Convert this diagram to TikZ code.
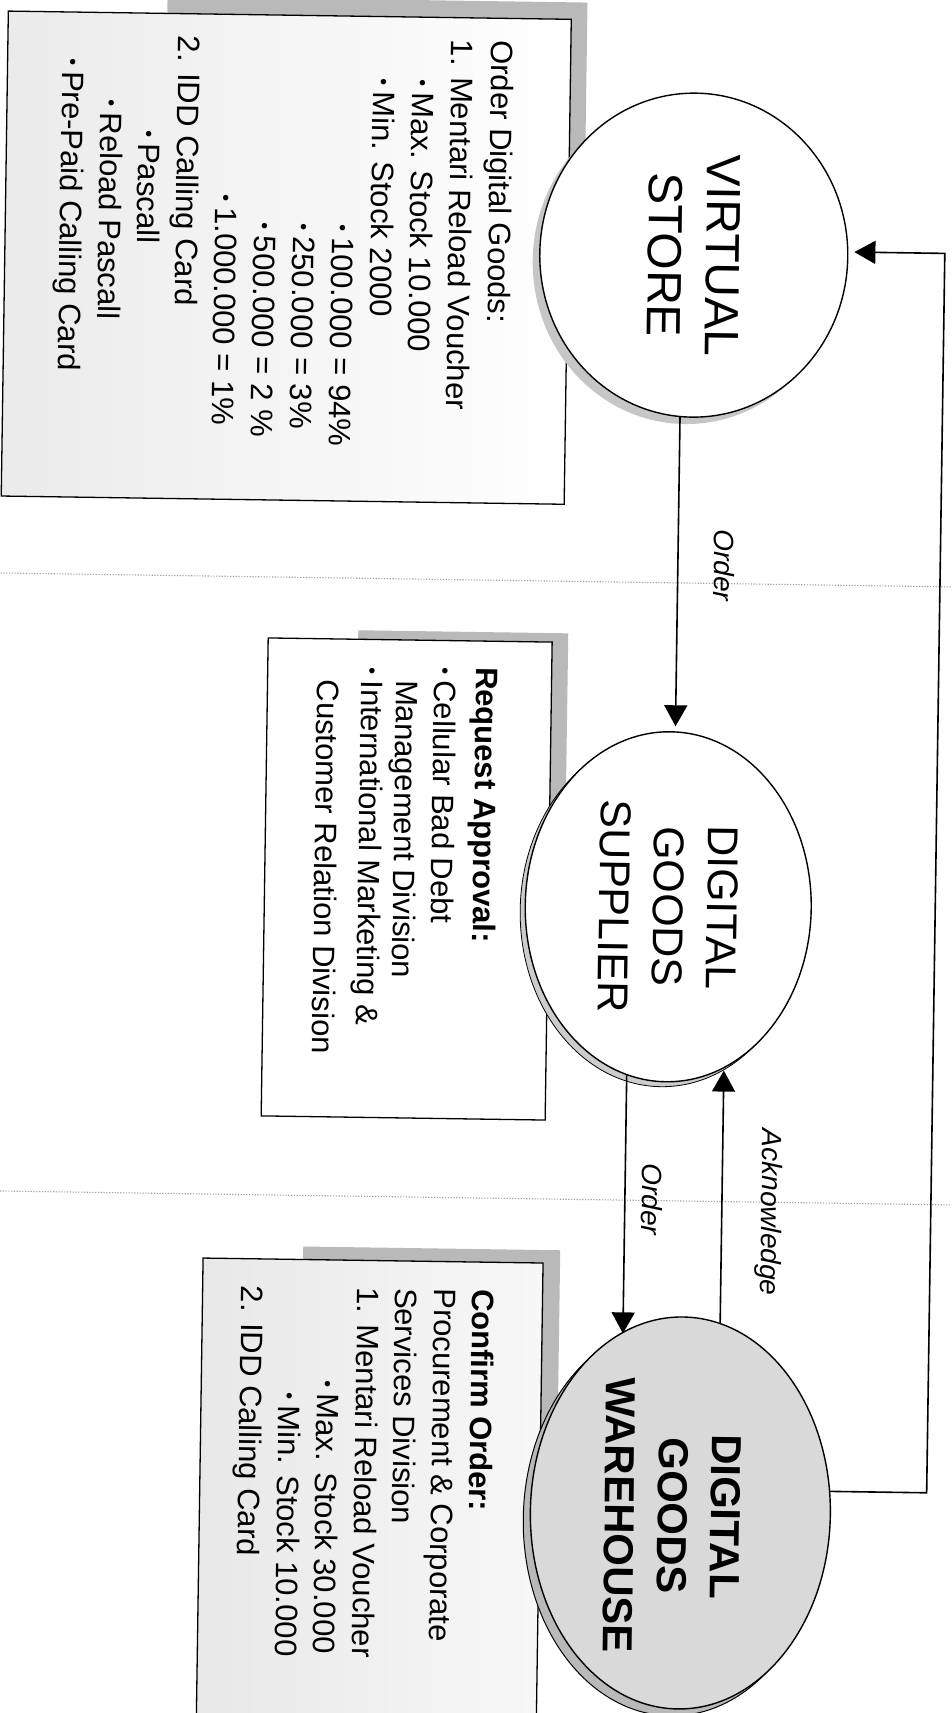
\documentclass[tikz,border=0pt]{standalone}
\usepackage{graphicx}
\usepackage{fontspec}
\setmainfont{Liberation Sans}
\usetikzlibrary{arrows.meta,shapes.geometric,calc,shadings}
\newcommand\bul{\makebox[13pt][l]{\raisebox{3.5pt}{\scalebox{0.65}{\textbullet}}}}
\begin{document}
\begin{tikzpicture}[x=1pt,y=-1pt,
  boxline/.style={draw=black,line width=1.3pt},
  shadowc/.style={fill=gray!55},
  proc/.style={ellipse,draw=black,line width=1.4pt,inner sep=0pt},
  big/.style={rotate=-90,align=center,inner sep=0pt},
  bodytxt/.style={rotate=-90,anchor=base west,inner sep=0pt,font=\fontsize{31}{36}\selectfont},
  flow/.style={line width=1.6pt,-{Triangle[length=21pt,width=23pt]}},
  lbl/.style={rotate=-90,inner sep=0pt,font=\fontsize{28}{32}\selectfont\itshape},
  sepline/.style={draw=gray!75,line width=1.1pt,dash pattern=on 1.2pt off 1.6pt}
]
\path[fill=white,use as bounding box] (0,0) rectangle (952,1713);
\begin{scope}[rotate around={-0.84:(476,856)},every node/.append style={transform shape}]
% separators
\coordinate (s1a) at (-40,580); \coordinate (s1b) at (1000,580);
\coordinate (s2a) at (-40,1198); \coordinate (s2b) at (1000,1198);
\draw[sepline] (s1a) -- (s1b);
\draw[sepline] (s2a) -- (s2b);
% box 1
\fill[shadowc] (155,1) rectangle (575,330);
\draw[boxline,left color=gray!16,right color=white] (-4,18) rectangle (559,503);
% box 2
\fill[shadowc] (355,632) rectangle (565,820);
\draw[boxline,fill=white] (265,641) rectangle (549,1119);
% box 3
\fill[shadowc] (309,1249) rectangle (566,1450);
\draw[boxline,left color=gray!18,right color=gray!6] (209,1262) rectangle (549,1780);
% ellipse centres
\coordinate (cvs) at (685,252);
\coordinate (cdg) at (669,904);
\coordinate (cwh) at (690,1510);
% virtual store
\fill[gray!45] ($(cvs)+(-7,7)$) ellipse [x radius=154, y radius=162];
\node[proc,fill=white,minimum width=308pt,minimum height=324pt] (vs) at (cvs) {};
\node[big,font=\fontsize{48}{58}\selectfont] (vsl) at (cvs) {VIRTUAL\\STORE};
% digital goods supplier
\draw[fill=gray!40,line width=0.8pt] ($(cdg)+(-5,5)$) ellipse [x radius=143, y radius=175];
\node[proc,fill=white,minimum width=286pt,minimum height=350pt] (dgs) at (cdg) {};
\node[big,font=\fontsize{43}{54}\selectfont] (dgsl) at (cdg) {DIGITAL\\GOODS\\SUPPLIER};
% warehouse
\draw[fill=gray!55,line width=1pt] ($(cwh)+(-7,7)$) ellipse [x radius=150, y radius=196];
\node[proc,fill=gray!30,minimum width=300pt,minimum height=392pt] (wh) at (cwh) {};
\node[big,font=\bfseries\fontsize{42}{53}\selectfont] (whl) at (682,1513) {DIGITAL\\GOODS\\WAREHOUSE};
% box 1 text
\foreach \bx/\sy/\txt [count=\i] in {
  480/40/{Order Digital Goods:},
  440/40/{1. Mentari Reload Voucher},
  401/80/{\bul Max. Stock 10.000},
  362/80/{\bul Min. Stock 2000},
  323/226/{\bul 100.000 = 94\%},
  284/226/{\bul 250.000 = 3\%},
  245/226/{\bul 500.000 = 2 \%},
  206/198/{\bul 1.000.000 = 1\%},
  167/40/{2. IDD Calling Card},
  128/135/{\bul Pascall},
  90/105/{\bul Reload Pascall},
  51/64/{\bul Pre-Paid Calling Card}}
  {\node[bodytxt] (ta\i) at (\bx,\sy) {\txt};}
% box 2 text
\foreach \bx/\sy/\txt [count=\i] in {
  474/667/{\textbf{Request Approval:}},
  432/668/{\bul Cellular Bad Debt},
  394/681/{Management Division},
  359/669/{\bul International Marketing \&},
  315/682/{Customer Relation Division}}
  {\node[bodytxt] (tb\i) at (\bx,\sy) {\txt};}
% box 3 text
\foreach \bx/\sy/\txt [count=\i] in {
  479/1289/{\textbf{Confirm Order:}},
  441/1289/{Procurement \& Corporate},
  402/1289/{Services Division},
  364/1289/{1. Mentari Reload Voucher},
  325/1383/{\bul Max. Stock 30.000},
  287/1395/{\bul Min. Stock 10.000},
  248/1289/{2. IDD Calling Card}}
  {\node[bodytxt] (tc\i) at (\bx,\sy) {\txt};}
% connectors
\draw[flow,shorten >=5pt] (vs.266) -- (vs.266 |- dgs.88);
\draw[flow,shorten >=1pt] (dgs.257) -- (dgs.257 |- wh.110);
\draw[flow,shorten >=4pt] (wh.79) -- (wh.79 |- dgs.291);
\coordinate (fb) at (936,900);
\draw[flow,shorten >=6pt] (wh.9) -| (fb) |- (vs.2);
% labels
\node[lbl] (l1) at (720,562) {Order};
\node[lbl] (l2) at (657,1197) {Order};
\node[lbl] (l3) at (774,1208) {Acknowledge};
\end{scope}
\end{tikzpicture}
\end{document}
